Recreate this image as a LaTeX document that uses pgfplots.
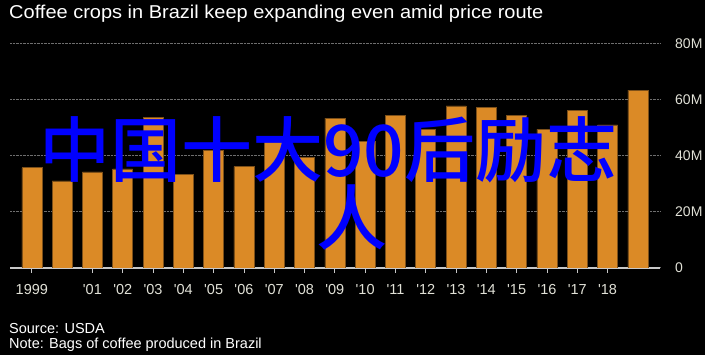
\documentclass[border=0pt]{standalone}
\usepackage{fontspec}
\setmainfont{Liberation Sans}
\newfontfamily\cjk{Noto Sans CJK SC}[UprightFont={* Medium}]
\usepackage{pgfplots}
\pgfplotsset{compat=1.18}
\definecolor{barfill}{RGB}{219,138,38}
\definecolor{bardraw}{RGB}{125,80,25}
\definecolor{gridc}{RGB}{110,110,110}
\definecolor{axisc}{RGB}{200,200,200}
\definecolor{lbl}{RGB}{225,225,215}
\definecolor{bluetxt}{RGB}{0,0,255}
\newcommand{\q}{\textquotesingle}
\begin{document}
\begin{tikzpicture}[x=1pt,y=1pt]
\useasboundingbox (0,0) rectangle (705,355);
\fill[black] (0,0) rectangle (705,355);
\node[anchor=base west, inner sep=0, text=white, font=\fontsize{18.6}{20}\selectfont] at (9,336) {\scalebox{1.075}[1]{Coffee crops in Brazil keep expanding even amid price route}};
\begin{axis}[
  at={(10pt,87pt)}, anchor=south west,
  scale only axis, width=650pt, height=224pt,
  xmin=1998.28, xmax=2019.73, ymin=0, ymax=80,
  ybar, bar width=20pt,
  axis x line*=bottom,
  axis y line*=right,
  y axis line style={draw=none},
  x axis line style={draw=axisc, line width=1.2pt},
  xtick={1999,2001,2002,2003,2004,2005,2006,2007,2008,2009,2010,2011,2012,2013,2014,2015,2016,2017,2018},
  xticklabels={1999,\q01,\q02,\q03,\q04,\q05,\q06,\q07,\q08,\q09,\q10,\q11,\q12,\q13,\q14,\q15,\q16,\q17,\q18},
  tick align=outside, major tick length=5pt,
  xtick style={draw=axisc, line width=0.8pt},
  ytick={0,20,40,60,80},
  yticklabels={0,20M,40M,60M,80M},
  ytick style={draw=none},
  ymajorgrids,
  major grid style={draw=gridc, densely dotted, line width=1pt},
  xticklabel style={text=lbl, font=\fontsize{14.5}{16}\selectfont, inner sep=0, yshift=-11pt},
  yticklabel style={text=lbl, font=\fontsize{14}{16}\selectfont, anchor=west, inner sep=0, xshift=10pt},
]
\addplot[fill=barfill, draw=bardraw, line width=0.6pt] coordinates {
(1999,35.8) (2000,31.1) (2001,34.3) (2002,35.4) (2003,53.8) (2004,33.4)
(2005,41.9) (2006,36.2) (2007,47.1) (2008,39.4) (2009,53.5) (2010,45.1)
(2011,54.6) (2012,49.5) (2013,57.9) (2014,57.4) (2015,54.6) (2016,49.5)
(2017,56.2) (2018,51.1) (2019,63.5)};
\end{axis}
\node[anchor=base west, inner sep=0, text=white, font=\fontsize{14.5}{16}\selectfont] at (9,21) {Source: USDA};
\node[anchor=base west, inner sep=0, text=white, font=\fontsize{14.5}{16}\selectfont] at (9,6) {Note: Bags of coffee produced in Brazil};
\node[anchor=base west, inner sep=0, text=bluetxt, font=\cjk\fontsize{71}{75}\selectfont] at (39,178) {中国十大90后励志};
\node[anchor=base west, inner sep=0, text=bluetxt, font=\cjk\fontsize{71}{75}\selectfont] at (316,110) {人};
\end{tikzpicture}
\end{document}
